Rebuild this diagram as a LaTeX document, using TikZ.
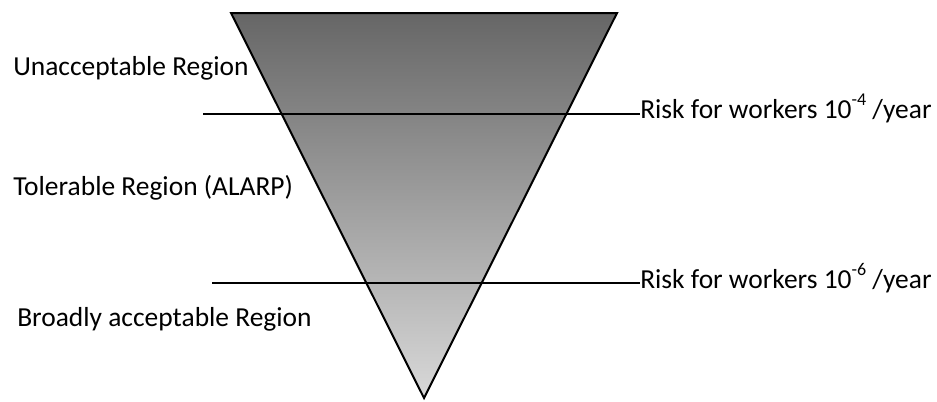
\documentclass[tikz,border=0pt]{standalone}
\usepackage{fontspec}
\setmainfont{Carlito}
\newcommand{\supx}[1]{\raisebox{0.45em}{\fontsize{13.5}{14}\selectfont #1}}
\begin{document}
\begin{tikzpicture}[x=0.75pt,y=-0.75pt,
  lbl/.style={anchor=base west,inner sep=0pt,font=\fontsize{20.6}{24}\selectfont},
  ln/.style={line width=1.5pt}]
\useasboundingbox (0,0) rectangle (937,401);
\coordinate (tl) at (231,13);
\coordinate (tr) at (617,13);
\coordinate (ap) at (424,398);
\shade[top color=black!60,bottom color=black!15] (tl) -- (tr) -- (ap) -- cycle;
\draw[ln,line join=miter] (tl) -- (tr) -- (ap) -- cycle;
\node[lbl] (u) at (13,75) {Unacceptable Region};
\node[lbl] (t) at (13,195) {Tolerable Region (ALARP)};
\node[lbl] (b) at (17,326) {Broadly acceptable Region};
\node[lbl] (r1) at (640,118) {Risk for workers 10\supx{-4} /year};
\node[lbl] (r2) at (640,288) {Risk for workers 10\supx{-6} /year};
\coordinate (s1) at (203,114);
\coordinate (s2) at (212,283);
\draw[ln] (s1) -- (s1 -| r1.west);
\draw[ln] (s2) -- (s2 -| r2.west);
\end{tikzpicture}
\end{document}
